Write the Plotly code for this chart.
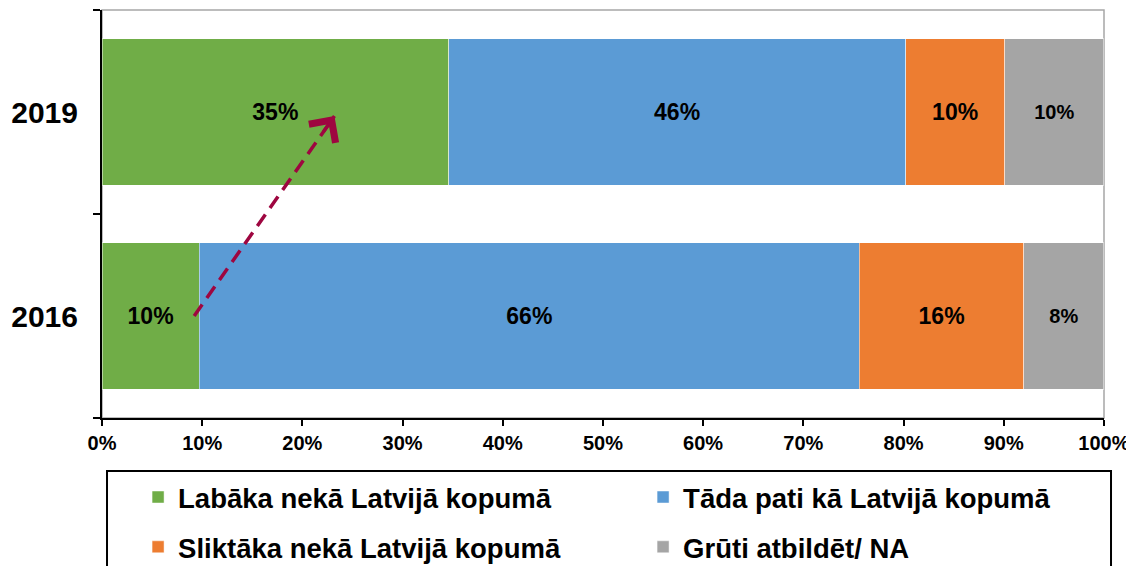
import plotly.graph_objects as go

years = ["2016", "2019"]
year_pos = [0, 1]
series_names = [
    "Labāka nekā Latvijā kopumā",
    "Tāda pati kā Latvijā kopumā",
    "Sliktāka nekā Latvijā kopumā",
    "Grūti atbildēt/ NA",
]
better = [9.7, 34.6]
same = [65.9, 45.6]
worse = [16.4, 9.9]
hard = [8.0, 9.9]
better_lbl = ["10%", "35%"]
same_lbl = ["66%", "46%"]
worse_lbl = ["16%", "10%"]
hard_lbl = ["8%", "10%"]
colors = ["#70AD47", "#5B9BD5", "#ED7D31", "#A5A5A5"]
legend_ids = ["legend", "legend2", "legend3", "legend4"]

# trend arrow (from 2016 'better' to 2019 'better')
arrow_x = [9.2, 23.2]
arrow_y = [0, 0.98]
ARROW_COLOR = "#9E0640"

FONT = "Liberation Sans, Arial, sans-serif"

fig = go.Figure()
values = [better, same, worse, hard]
labels = [better_lbl, same_lbl, worse_lbl, hard_lbl]
sizes = [23, 23, 23, 20]
for name, vals, lbl, col, sz, lg in zip(series_names, values, labels, colors, sizes, legend_ids):
    fig.add_trace(go.Bar(
        y=year_pos, x=vals, orientation="h", name=name, legend=lg,
        marker=dict(color=col, line=dict(color="rgba(255,255,255,0.6)", width=0.8)),
        text=lbl, textposition="inside", insidetextanchor="middle",
        textangle=0, constraintext="none",
        textfont=dict(family=FONT, size=sz, color="black", weight="bold"),
        width=0.72, hoverinfo="skip",
    ))

# dashed shaft
fig.add_trace(go.Scatter(
    x=arrow_x, y=arrow_y, mode="lines", showlegend=False,
    line=dict(color=ARROW_COLOR, width=3.5, dash="14px,8px"),
    hoverinfo="skip", cliponaxis=False,
))

# open chevron arrowhead at the tip
fig.add_annotation(
    x=arrow_x[1], y=arrow_y[1], xref="x", yref="y",
    ax=-11, ay=15.7, axref="pixel", ayref="pixel",
    text="", font=dict(size=1), borderpad=0, borderwidth=0,
    showarrow=True, arrowhead=4, arrowsize=1.9, arrowwidth=3.3,
    arrowcolor=ARROW_COLOR, standoff=0, startstandoff=0,
)

def leg(x, y):
    return dict(
        x=x, y=y, xanchor="left", yanchor="middle", orientation="v",
        font=dict(family=FONT, size=27.5, color="black", weight="bold"),
        bgcolor="rgba(0,0,0,0)",
    )

fig.update_layout(
    barmode="stack",
    width=1126, height=558,
    margin=dict(l=94, r=30, t=2, b=148, autoexpand=False),
    plot_bgcolor="white", paper_bgcolor="white",
    font=dict(family=FONT, color="black"),
    showlegend=True,
    legend=leg(0.036, -0.194),
    legend2=leg(0.540, -0.194),
    legend3=leg(0.036, -0.316),
    legend4=leg(0.540, -0.316),
    shapes=[
        dict(type="rect", xref="paper", yref="paper", x0=0, x1=1, y0=0, y1=1,
             line=dict(color="#A6A6A6", width=1.5), layer="below"),
        dict(type="rect", xref="paper", yref="paper", x0=0.005, x1=1.007,
             y0=-0.13, y1=-0.45, line=dict(color="black", width=2),
             fillcolor="rgba(0,0,0,0)"),
    ],
)

fig.update_xaxes(
    range=[0, 100.01], tickmode="array", tickvals=list(range(0, 101, 10)),
    ticktext=[f"{v}%" for v in range(0, 101, 10)],
    showgrid=False, zeroline=False,
    showline=True, linecolor="black", linewidth=2,
    ticks="outside", ticklen=6, tickwidth=2, tickcolor="black",
    tickfont=dict(family=FONT, size=20, color="black", weight="bold"),
    fixedrange=True,
)
fig.update_yaxes(
    range=[-0.5, 1.5], tickmode="array", tickvals=year_pos, ticktext=years,
    showgrid=False, zeroline=False,
    showline=True, linecolor="black", linewidth=2,
    ticks="", ticklabelstandoff=16,
    minor=dict(tickmode="array", tickvals=[-0.5, 0.5, 1.5], ticks="outside",
               ticklen=7, tickwidth=2, tickcolor="black", showgrid=False),
    tickfont=dict(family=FONT, size=30, color="black", weight="bold"),
    fixedrange=True,
)

fig.write_html("out.html")
